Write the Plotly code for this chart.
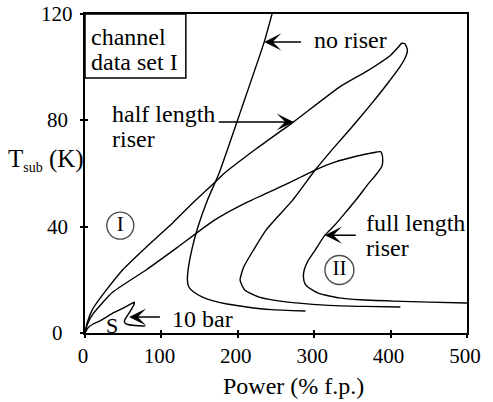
import plotly.graph_objects as go

# ---- stability boundaries, subcooling vs. power ----
# no riser (rising branch lies above 120 K)
no_riser_x = [246.2, 234.6, 205.1, 175.6, 160.3, 147.4, 139.7, 135.3, 134.0, 135.9,
              142.3, 153.8, 166.7, 185.9, 211.5, 243.6, 288.5]
no_riser_y = [121.5, 109.5, 84.6, 60.2, 50.0, 39.5, 31.2, 24.5, 19.9, 17.3,
              15.4, 13.5, 12.2, 10.9, 9.8, 8.8, 8.3]

# half length riser
half_x = [0, 3, 10, 28, 50, 80, 115, 145, 170, 182, 225, 273, 333, 369.6, 400, 410,
          414.5, 419, 421.8, 421.5, 418, 412.4, 395, 370, 348, 326.9, 301.3, 271.8, 237.2,
          220.5, 207.7, 203.0, 209.0, 228.2, 262.8, 314.1, 365.4, 412.8]
half_y = [0, 4, 9, 16.2, 24, 32.3, 41.5, 50, 56.7, 60, 69.5, 79.4, 92.5, 98.6, 104.5, 107.5,
          109.0, 108.7, 106.8, 105.3, 102.9, 100.2, 93.5, 84.5, 77.0, 70.1, 61.3, 50.0, 38.8,
          31.2, 24.8, 19.9, 16.2, 13.5, 11.7, 10.5, 10.0, 9.8]

# full length riser
full_x = [0, 3, 10, 36, 80, 120, 167, 211, 260, 301, 327, 355, 375, 386.8,
          388.6, 389.7, 388.5, 382.4, 370, 356.4, 340, 327, 314, 301.3, 292, 287,
          285.9, 288, 293, 297.4, 305, 314, 333, 360, 404, 450, 500]
full_y = [0, 3.2, 7, 15.3, 23.7, 32, 42, 49, 55.5, 61.3, 64.3, 66.5, 67.7, 68.2,
          67.4, 65.1, 62.6, 60.1, 55.8, 50.7, 45.0, 40.6, 36.8, 31.2, 27.2, 23.8,
          21.1, 18.5, 17.0, 16.2, 15.0, 14.3, 13.2, 12.5, 12.0, 11.6, 11.3]

# 10 bar case
bar10_x = [0, 4, 10, 19, 28, 36, 46, 56, 62, 64.5, 64, 60.5, 56.5, 53, 51.5, 52.5,
           56, 62, 70, 79]
bar10_y = [0, 2, 3.3, 4.5, 6, 7.4, 8.8, 10.3, 11.2, 11.6, 10.6, 8.8, 7.0, 5.5, 4.4, 3.7,
           3.2, 2.9, 2.7, 2.6]

x_ticks = [0, 100, 200, 300, 400, 500]
y_ticks = [0, 40, 80, 120]

# circled region labels
region_text = ["I", "II"]
region_x = [46.2, 333.0]
region_y = [40.4, 23.7]

FONT = "Times New Roman, Liberation Serif, DejaVu Serif, serif"
INK = "black"

fig = go.Figure()
for xs, ys in [(no_riser_x, no_riser_y), (half_x, half_y), (full_x, full_y), (bar10_x, bar10_y)]:
    fig.add_trace(go.Scatter(x=xs, y=ys, mode="lines",
                             line=dict(color=INK, width=1.4, shape="spline", smoothing=0.5),
                             hoverinfo="skip", showlegend=False))

fig.add_trace(go.Scatter(x=region_x, y=region_y, mode="markers+text", text=region_text,
                         textposition="middle center",
                         textfont=dict(family=FONT, size=21, color=INK),
                         marker=dict(symbol="circle-open", size=[27, 29],
                                     line=dict(color=INK, width=1.4), color=INK),
                         xaxis="x2", yaxis="y2", hoverinfo="skip", showlegend=False))

ann = []

def label(txt, x, y, size=24, xanchor="left"):
    ann.append(dict(text=txt, x=x, y=y, xref="x", yref="y", showarrow=False,
                    xanchor=xanchor, yanchor="middle",
                    font=dict(family=FONT, size=size, color=INK)))

def arrow(x_tip, y_tip, x_tail, y_tail):
    ann.append(dict(text="", x=x_tip, y=y_tip, ax=x_tail, ay=y_tail,
                    xref="x", yref="y", axref="x", ayref="y",
                    showarrow=True, arrowhead=3, arrowsize=1.9, arrowwidth=1.5,
                    arrowcolor=INK))

label("channel", 5.5, 111.4)
label("data set I", 5.5, 102.0)
label("half length", 32.1, 82.4)
label("riser", 32.1, 73.0)
label("no riser", 297.4, 110.2)
label("full length", 365.4, 41.4)
label("riser", 365.4, 32.0)
label("10 bar", 111.5, 5.3)
label("S", 35.9, 3.0, size=22, xanchor="center")

arrow(234.6, 109.5, 284.6, 109.5)
arrow(273.1, 79.4, 173.1, 79.4)
arrow(314.0, 36.8, 356.4, 36.8)
arrow(57.7, 6.0, 100.0, 6.0)

for v in y_ticks:
    ann.append(dict(text=str(v), x=-0.072, y=v, xref="paper", yref="y", showarrow=False,
                    xanchor="center", yanchor="middle",
                    font=dict(family=FONT, size=21, color=INK)))

ann.append(dict(text="Power (% f.p.)", x=0.545, y=-0.166, xref="paper", yref="paper",
                showarrow=False, xanchor="center", yanchor="middle",
                font=dict(family=FONT, size=24, color=INK)))
ann.append(dict(text="T<sub><span style='font-size:14px'>sub</span></sub> (K)",
                x=-0.207, y=65.1, xref="paper", yref="y",
                showarrow=False, xanchor="left", yanchor="middle",
                font=dict(family=FONT, size=25, color=INK)))

fig.update_layout(
    width=493, height=402,
    margin=dict(l=85, r=18, t=14, b=69),
    paper_bgcolor="white", plot_bgcolor="white",
    font=dict(family=FONT, color=INK),
    annotations=ann,
    shapes=[dict(type="rect", xref="paper", yref="paper", x0=0, x1=0.264, y0=0.799, y1=1,
                 line=dict(color=INK, width=1.5))],
    xaxis=dict(range=[0, 500], tickvals=x_ticks, ticks="outside", ticklen=3, tickwidth=1.5,
               tickcolor=INK, showline=True, linecolor=INK, linewidth=2, mirror=True,
               showgrid=False, zeroline=False, ticklabelshift=-2,
               tickfont=dict(family=FONT, size=21, color=INK)),
    yaxis=dict(range=[0, 120], tickvals=y_ticks, ticks="outside", ticklen=3, tickwidth=1.5,
               tickcolor=INK, showline=True, linecolor=INK, linewidth=2, mirror=True,
               showgrid=False, zeroline=False, showticklabels=False),
    xaxis2=dict(matches="x", overlaying="x", anchor="y2", side="bottom",
                tickvals=x_ticks, ticks="inside", ticklen=3, tickwidth=1.5, tickcolor=INK,
                showticklabels=False, showline=False, showgrid=False, zeroline=False),
    yaxis2=dict(matches="y", overlaying="y", anchor="x2", side="left",
                tickvals=y_ticks, ticks="inside", ticklen=3, tickwidth=1.5, tickcolor=INK,
                showticklabels=False, showline=False, showgrid=False, zeroline=False),
)

fig.write_html("out.html")
